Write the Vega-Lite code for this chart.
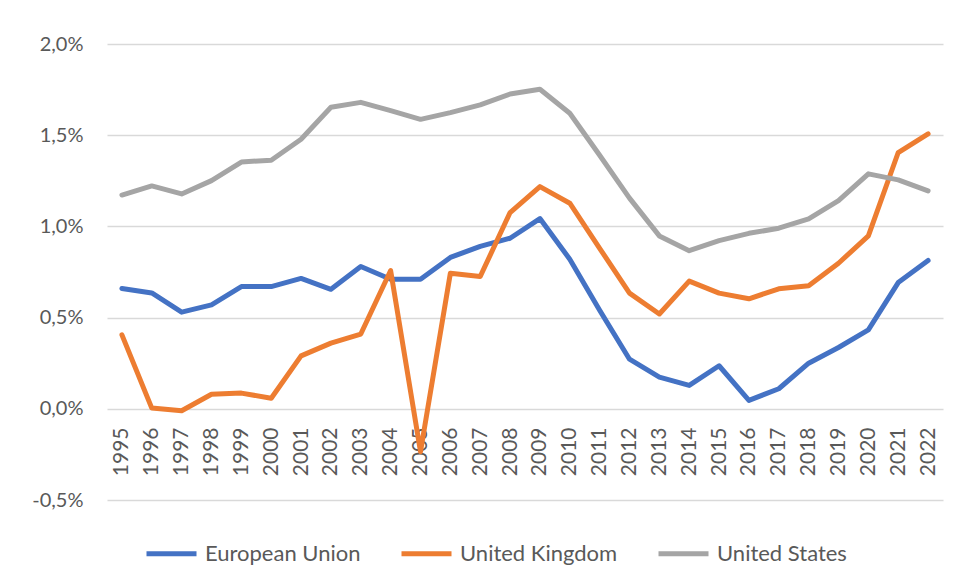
{
  "$schema": "https://vega.github.io/schema/vega-lite/v6.json",
  "width": 836,
  "height": 456,
  "autosize": "none",
  "padding": {"left": 107, "top": 44, "right": 16, "bottom": 81},
  "background": "white",
  "config": {
    "view": {"stroke": null},
    "font": "Lato",
    "axis": {"labelFont": "Lato", "labelColor": "#595959", "gridColor": "#D9D9D9", "gridWidth": 1.5}
  },
  "data": {
    "values": [
      {"year": "1995", "region": "European Union", "value": 0.66},
      {"year": "1996", "region": "European Union", "value": 0.635},
      {"year": "1997", "region": "European Union", "value": 0.53},
      {"year": "1998", "region": "European Union", "value": 0.57},
      {"year": "1999", "region": "European Union", "value": 0.67},
      {"year": "2000", "region": "European Union", "value": 0.67},
      {"year": "2001", "region": "European Union", "value": 0.715},
      {"year": "2002", "region": "European Union", "value": 0.655},
      {"year": "2003", "region": "European Union", "value": 0.78},
      {"year": "2004", "region": "European Union", "value": 0.71},
      {"year": "2005", "region": "European Union", "value": 0.71},
      {"year": "2006", "region": "European Union", "value": 0.83},
      {"year": "2007", "region": "European Union", "value": 0.89},
      {"year": "2008", "region": "European Union", "value": 0.935},
      {"year": "2009", "region": "European Union", "value": 1.043},
      {"year": "2010", "region": "European Union", "value": 0.82},
      {"year": "2011", "region": "European Union", "value": 0.54},
      {"year": "2012", "region": "European Union", "value": 0.272},
      {"year": "2013", "region": "European Union", "value": 0.174},
      {"year": "2014", "region": "European Union", "value": 0.128},
      {"year": "2015", "region": "European Union", "value": 0.236},
      {"year": "2016", "region": "European Union", "value": 0.046},
      {"year": "2017", "region": "European Union", "value": 0.11},
      {"year": "2018", "region": "European Union", "value": 0.25},
      {"year": "2019", "region": "European Union", "value": 0.336},
      {"year": "2020", "region": "European Union", "value": 0.433},
      {"year": "2021", "region": "European Union", "value": 0.692},
      {"year": "2022", "region": "European Union", "value": 0.813},
      {"year": "1995", "region": "United Kingdom", "value": 0.405},
      {"year": "1996", "region": "United Kingdom", "value": 0.004},
      {"year": "1997", "region": "United Kingdom", "value": -0.011},
      {"year": "1998", "region": "United Kingdom", "value": 0.08},
      {"year": "1999", "region": "United Kingdom", "value": 0.086},
      {"year": "2000", "region": "United Kingdom", "value": 0.058},
      {"year": "2001", "region": "United Kingdom", "value": 0.29},
      {"year": "2002", "region": "United Kingdom", "value": 0.36},
      {"year": "2003", "region": "United Kingdom", "value": 0.41},
      {"year": "2004", "region": "United Kingdom", "value": 0.758},
      {"year": "2005", "region": "United Kingdom", "value": -0.235},
      {"year": "2006", "region": "United Kingdom", "value": 0.743},
      {"year": "2007", "region": "United Kingdom", "value": 0.725},
      {"year": "2008", "region": "United Kingdom", "value": 1.076},
      {"year": "2009", "region": "United Kingdom", "value": 1.218},
      {"year": "2010", "region": "United Kingdom", "value": 1.127},
      {"year": "2011", "region": "United Kingdom", "value": 0.88},
      {"year": "2012", "region": "United Kingdom", "value": 0.634},
      {"year": "2013", "region": "United Kingdom", "value": 0.52},
      {"year": "2014", "region": "United Kingdom", "value": 0.70},
      {"year": "2015", "region": "United Kingdom", "value": 0.634},
      {"year": "2016", "region": "United Kingdom", "value": 0.603},
      {"year": "2017", "region": "United Kingdom", "value": 0.658},
      {"year": "2018", "region": "United Kingdom", "value": 0.674},
      {"year": "2019", "region": "United Kingdom", "value": 0.798},
      {"year": "2020", "region": "United Kingdom", "value": 0.948},
      {"year": "2021", "region": "United Kingdom", "value": 1.405},
      {"year": "2022", "region": "United Kingdom", "value": 1.507},
      {"year": "1995", "region": "United States", "value": 1.172},
      {"year": "1996", "region": "United States", "value": 1.222},
      {"year": "1997", "region": "United States", "value": 1.178},
      {"year": "1998", "region": "United States", "value": 1.251},
      {"year": "1999", "region": "United States", "value": 1.353},
      {"year": "2000", "region": "United States", "value": 1.363},
      {"year": "2001", "region": "United States", "value": 1.478},
      {"year": "2002", "region": "United States", "value": 1.653},
      {"year": "2003", "region": "United States", "value": 1.68},
      {"year": "2004", "region": "United States", "value": 1.635},
      {"year": "2005", "region": "United States", "value": 1.587},
      {"year": "2006", "region": "United States", "value": 1.624},
      {"year": "2007", "region": "United States", "value": 1.666},
      {"year": "2008", "region": "United States", "value": 1.726},
      {"year": "2009", "region": "United States", "value": 1.752},
      {"year": "2010", "region": "United States", "value": 1.62},
      {"year": "2011", "region": "United States", "value": 1.39},
      {"year": "2012", "region": "United States", "value": 1.155},
      {"year": "2013", "region": "United States", "value": 0.948},
      {"year": "2014", "region": "United States", "value": 0.867},
      {"year": "2015", "region": "United States", "value": 0.922},
      {"year": "2016", "region": "United States", "value": 0.962},
      {"year": "2017", "region": "United States", "value": 0.99},
      {"year": "2018", "region": "United States", "value": 1.041},
      {"year": "2019", "region": "United States", "value": 1.141},
      {"year": "2020", "region": "United States", "value": 1.288},
      {"year": "2021", "region": "United States", "value": 1.255},
      {"year": "2022", "region": "United States", "value": 1.195}
    ]
  },
  "mark": {"type": "line", "strokeWidth": 5, "strokeCap": "round", "strokeJoin": "round"},
  "encoding": {
    "x": {
      "field": "year",
      "type": "ordinal",
      "scale": {"type": "point", "padding": 0.5},
      "axis": {
        "title": null,
        "offset": -91,
        "domain": false,
        "ticks": false,
        "grid": false,
        "labelAngle": 270,
        "labelFontSize": 21,
        "labelPadding": 18
      }
    },
    "y": {
      "field": "value",
      "type": "quantitative",
      "scale": {"domain": [-0.5, 2.0], "nice": false},
      "axis": {
        "title": null,
        "values": [-0.5, 0, 0.5, 1, 1.5, 2],
        "labelExpr": "replace(replace(format(datum.value, '.1f'), '.', ','), '\u2212', '-') + '%'",
        "domain": false,
        "ticks": false,
        "labelFontSize": 20,
        "labelPadding": 24
      }
    },
    "color": {
      "field": "region",
      "type": "nominal",
      "scale": {
        "domain": ["European Union", "United Kingdom", "United States"],
        "range": ["#4472C4", "#ED7D31", "#A5A5A5"]
      },
      "legend": {
        "title": null,
        "orient": "none",
        "direction": "horizontal",
        "legendX": 37,
        "legendY": 482,
        "symbolType": "stroke",
        "symbolSize": 2500,
        "symbolStrokeWidth": 5,
        "labelFont": "Lato",
        "labelFontSize": 22,
        "labelColor": "#595959",
        "labelOffset": 6,
        "columnPadding": 30,
        "labelLimit": 300
      }
    }
  }
}
